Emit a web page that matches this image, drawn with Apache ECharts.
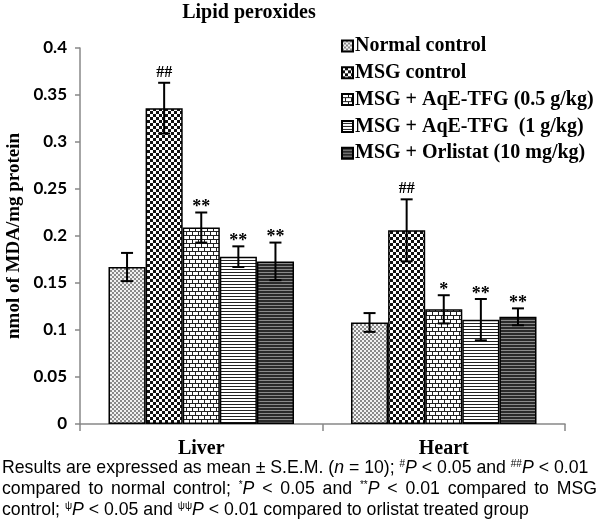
<!DOCTYPE html>
<html><head><meta charset="utf-8">
<script src="https://cdn.jsdelivr.net/npm/echarts@6/dist/echarts.min.js"></script>
<style>html,body{margin:0;padding:0;background:#fff}#c{width:600px;height:527px}</style>
</head><body><div id="c"></div>
<script>
const categories = ['Liver', 'Heart'];
const groupNames = ['Normal control', 'MSG control', 'MSG + AqE-TFG (0.5 g/kg)', 'MSG + AqE-TFG  (1 g/kg)', 'MSG + Orlistat (10 mg/kg)'];
const normalMean = [0.167, 0.108];
const normalSem = [0.015, 0.010];
const msgMean = [0.336, 0.206];
const msgSem = [0.027, 0.033];
const tfgLowMean = [0.209, 0.122];
const tfgLowSem = [0.016, 0.015];
const tfgHighMean = [0.178, 0.111];
const tfgHighSem = [0.011, 0.022];
const orlistatMean = [0.173, 0.114];
const orlistatSem = [0.020, 0.009];
const normalMarks = ['', ''];
const msgMarks = ['##', '##'];
const tfgLowMarks = ['**', '*'];
const tfgHighMarks = ['**', '**'];
const orlistatMarks = ['**', '**'];
const yAxisTitle = 'nmol of MDA/mg protein';

const means = [normalMean, msgMean, tfgLowMean, tfgHighMean, orlistatMean];
const sems = [normalSem, msgSem, tfgLowSem, tfgHighSem, orlistatSem];
const marks = [normalMarks, msgMarks, tfgLowMarks, tfgHighMarks, orlistatMarks];

function pat(w, h, draw) {
  const c = document.createElement('canvas');
  c.width = w; c.height = h;
  const x = c.getContext('2d');
  draw(x);
  return { image: c, repeat: 'repeat' };
}
const patterns = [
  pat(4, 4, x => { x.fillStyle = '#f2f2f2'; x.fillRect(0,0,4,4); x.fillStyle = '#8a8a8a'; x.fillRect(0,0,2,2); x.fillRect(2,2,2,2); }),
  pat(6, 6, x => { x.fillStyle = '#111'; x.fillRect(0,0,6,6); x.fillStyle = '#fff'; x.fillRect(0,0,3,3); x.fillRect(3,3,3,3); }),
  pat(12, 8, x => { x.fillStyle = '#fff'; x.fillRect(0,0,12,8); x.fillStyle = '#222';
    x.fillRect(0,3,12,1); x.fillRect(0,7,12,1);
    x.fillRect(0,0,1,3); x.fillRect(6,0,1,3); x.fillRect(3,4,1,3); x.fillRect(9,4,1,3); }),
  pat(4, 3, x => { x.fillStyle = '#fff'; x.fillRect(0,0,4,3); x.fillStyle = '#222'; x.fillRect(0,2,4,1); }),
  pat(4, 3, x => { x.fillStyle = '#2a2a2a'; x.fillRect(0,0,4,3); x.fillStyle = '#8a8a8a'; x.fillRect(0,2,4,1); })
];

const gapPct = 0.235;
const barSeries = groupNames.map((n, g) => ({
  name: n, type: 'bar', data: means[g],
  barGap: '0%', barCategoryGap: (gapPct * 100) + '%',
  itemStyle: { color: patterns[g], borderColor: '#000', borderWidth: 1.5 },
  emphasis: { disabled: true }
}));

const errData = [];
for (let g = 0; g < groupNames.length; g++)
  for (let c = 0; c < categories.length; c++)
    errData.push([c, means[g][c], sems[g][c], g, marks[g][c]]);

const serif = '"Liberation Serif", "DejaVu Serif", serif';
const sans = '"Liberation Sans", Arial, sans-serif';

const errSeries = {
  type: 'custom', name: 'err', z: 10, silent: true,
  encode: { x: 0, y: 1 },
  data: errData,
  renderItem: function (params, api) {
    const c = api.value(0), m = api.value(1), s = api.value(2), g = api.value(3);
    const mk = errData[params.dataIndex][4];
    const band = api.size([1, 0])[0];
    const inner = band * (1 - gapPct);
    const bw = inner / groupNames.length;
    const base = api.coord([c, m]);
    const cx = base[0] - inner / 2 + bw * (g + 0.5);
    const top = api.coord([c, m + s])[1];
    const bot = api.coord([c, m - s])[1];
    const cap = 6;
    const st = { stroke: '#000', lineWidth: 2 };
    const ch = [
      { type: 'line', shape: { x1: cx, y1: top, x2: cx, y2: bot }, style: st },
      { type: 'line', shape: { x1: cx - cap, y1: top, x2: cx + cap, y2: top }, style: st },
      { type: 'line', shape: { x1: cx - cap, y1: bot, x2: cx + cap, y2: bot }, style: st }
    ];
    if (mk) {
      const star = mk.indexOf('*') >= 0;
      ch.push({ type: 'text', x: cx, y: top + (star ? 4 : -2), style: { text: mk, align: 'center', verticalAlign: 'bottom',
        fill: '#000', fontFamily: serif, fontWeight: 'bold', fontSize: star ? 18 : 16 } });
    }
    return { type: 'group', children: ch };
  }
};

const FS = 17.7;
const rich = {
  n: { fontFamily: sans, fontSize: FS, color: '#000' },
  i: { fontFamily: sans, fontSize: FS, fontStyle: 'italic', color: '#000' },
  s: { fontFamily: sans, fontSize: 10, color: '#000', verticalAlign: 'top', padding: [0, 0, 7, 0] }
};

// justify a footnote line to a target width by widening its spaces
const mctx = document.createElement('canvas').getContext('2d');
function measure(style, t) {
  const r = rich[style];
  mctx.font = (r.fontStyle === 'italic' ? 'italic ' : '') + r.fontSize + 'px ' + r.fontFamily;
  return mctx.measureText(t).width;
}
function justified(segs, target) {
  let w = 0, spaces = 0;
  segs.forEach(([st, t]) => { w += measure(st, t); if (st === 'n') spaces += (t.match(/ /g) || []).length; });
  const sw = measure('n', ' ') + Math.max(0, (target - w) / spaces);
  rich.g = { fontFamily: sans, fontSize: FS, width: sw };
  return segs.map(([st, t]) => st === 'n'
    ? t.split(' ').map(p => p ? '{n|' + p + '}' : '').join('{g| }')
    : '{' + st + '|' + t + '}').join('');
}
const line2 = justified([['n', 'compared to normal control; '], ['s', '*'], ['i', 'P'], ['n', ' < 0.05 and '], ['s', '**'], ['i', 'P'], ['n', ' < 0.01 compared to MSG']], 595);

const chart = echarts.init(document.getElementById('c'), null, { renderer: 'canvas' });
chart.setOption({
  animation: false,
  title: { text: 'Lipid peroxides', left: 244, top: -2, textAlign: 'center',
    textStyle: { fontFamily: serif, fontWeight: 'bold', fontSize: 20, color: '#000' } },
  legend: {
    data: groupNames, orient: 'vertical', left: 341, top: 36, padding: 0,
    itemWidth: 11, itemHeight: 11, itemGap: 6.8, icon: 'rect',
    textStyle: { fontFamily: serif, fontWeight: 'bold', fontSize: 20, color: '#000', padding: [0, 0, 0, -3] },
    selectedMode: false
  },
  grid: { left: 80, right: 35, top: 48, bottom: 103, outerBoundsMode: 'none', containLabel: false },
  xAxis: {
    type: 'category', data: categories,
    axisLine: { lineStyle: { color: '#888', width: 1.5 } },
    axisTick: { show: true, length: 7, interval: 0, lineStyle: { color: '#888', width: 1.5 } },
    axisLabel: { fontFamily: serif, fontWeight: 'bold', fontSize: 20, color: '#000', margin: 15 }
  },
  yAxis: {
    type: 'value', min: 0, max: 0.4, interval: 0.05,
    name: yAxisTitle, nameLocation: 'middle', nameRotate: 90, nameGap: 56, nameMoveOverlap: false,
    nameTextStyle: { fontFamily: serif, fontWeight: 'bold', fontSize: 19, color: '#000' },
    axisLine: { show: true, lineStyle: { color: '#888', width: 1.5 } },
    axisTick: { show: true, length: 5, lineStyle: { color: '#888', width: 1.5 } },
    splitLine: { show: false },
    axisLabel: { fontFamily: 'Lato, "Noto Sans", sans-serif', fontWeight: 'bold', fontSize: 17, color: '#000', margin: 13 }
  },
  series: barSeries.concat([errSeries]),
  graphic: [
    { type: 'text', left: 2, top: 459, style: { rich: rich,
      text: '{n|Results are expressed as mean ± S.E.M. (}{i|n}{n| = 10); }{s|#}{i|P}{n| < 0.05 and }{s|##}{i|P}{n| < 0.01}' } },
    { type: 'text', left: 2, top: 480, style: { rich: rich, text: line2 } },
    { type: 'text', left: 2, top: 501, style: { rich: rich,
      text: '{n|control; }{s|ψ}{i|P}{n| < 0.05 and }{s|ψψ}{i|P}{n| < 0.01 compared to orlistat treated group}' } }
  ]
});
</script></body></html>
